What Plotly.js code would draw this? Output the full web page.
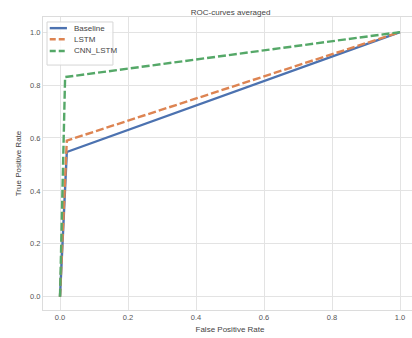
<!DOCTYPE html>
<html><head><meta charset="utf-8">
<script src="https://cdn.plot.ly/plotly-3.0.1.min.js"></script>
<style>html,body{margin:0;padding:0;overflow:hidden;background:#fff;width:412px;height:338px}</style>
</head><body><div id="chart"></div>
<script>
const seriesNames = ["Baseline", "LSTM", "CNN_LSTM"];
const baselineFPR = [0, 0.02, 1];
const baselineTPR = [0, 0.547, 1];
const lstmFPR = [0, 0.02, 1];
const lstmTPR = [0, 0.59, 1];
const cnnFPR = [0, 0.015, 1];
const cnnTPR = [0, 0.83, 1];
const xTicks = [0, 0.2, 0.4, 0.6, 0.8, 1.0];
const yTicks = [0, 0.2, 0.4, 0.6, 0.8, 1.0];

const colors = ["#4c72b0", "#dd8452", "#55a868"];
const dashes = ["solid", "8px,3px", "8px,3px"];
const data = [[baselineFPR, baselineTPR], [lstmFPR, lstmTPR], [cnnFPR, cnnTPR]];
const traces = data.map((d, i) => ({
  x: d[0], y: d[1], name: seriesNames[i], mode: "lines",
  line: {color: colors[i], width: 2.4, dash: dashes[i]}
}));
const tickFmt = v => v.toFixed(1);

// custom compact legend (paper coords)
const legRows = [0.962, 0.924, 0.884];
const shapes = [{type: "rect", xref: "paper", yref: "paper", x0: 0.0107, x1: 0.187, y0: 0.836, y1: 0.983,
  line: {color: "#d6d6d6", width: 1}, fillcolor: "rgba(255,255,255,0.85)", layer: "above"}];
const annotations = [];
seriesNames.forEach((n, i) => {
  shapes.push({type: "line", xref: "paper", yref: "paper", x0: 0.018, x1: 0.064, y0: legRows[i], y1: legRows[i],
    line: {color: colors[i], width: 2.4, dash: i === 0 ? "solid" : "6px,3px"}, layer: "above"});
  annotations.push({xref: "paper", yref: "paper", x: 0.077, y: legRows[i], xanchor: "left", yanchor: "middle",
    text: n, showarrow: false, font: {size: 8, color: "#444"}});
});

const layout = {
  width: 417, height: 338,
  margin: {l: 43, r: 0, t: 17, b: 28},
  paper_bgcolor: "#fff", plot_bgcolor: "#fff",
  font: {family: "Liberation Sans, Arial, sans-serif", size: 7, color: "#444"},
  title: {text: "ROC-curves averaged", x: 0.553, xanchor: "center", y: 0.964, yanchor: "middle", font: {size: 8, color: "#444"}},
  xaxis: {
    range: [-0.05, 1.05], tickvals: xTicks, ticktext: xTicks.map(tickFmt),
    showgrid: true, gridcolor: "#e3e3e3", gridwidth: 1, zeroline: false,
    showline: true, linecolor: "#dcdcdc", mirror: true, ticks: "", ticklen: 0,
    title: {text: "False Positive Rate", font: {size: 8, color: "#444"}, standoff: 5},
    tickfont: {size: 7.5, color: "#555"}
  },
  yaxis: {
    range: [-0.05, 1.057], tickvals: yTicks, ticktext: yTicks.map(tickFmt),
    showgrid: true, gridcolor: "#e3e3e3", gridwidth: 1, zeroline: false,
    showline: true, linecolor: "#dcdcdc", mirror: true, ticks: "", ticklen: 0,
    title: {text: "True Positive Rate", font: {size: 8, color: "#444"}, standoff: 7},
    tickfont: {size: 7.5, color: "#555"}
  },
  showlegend: false,
  shapes: shapes,
  annotations: annotations
};
Plotly.newPlot("chart", traces, layout, {displayModeBar: false, staticPlot: true});
</script></body></html>
